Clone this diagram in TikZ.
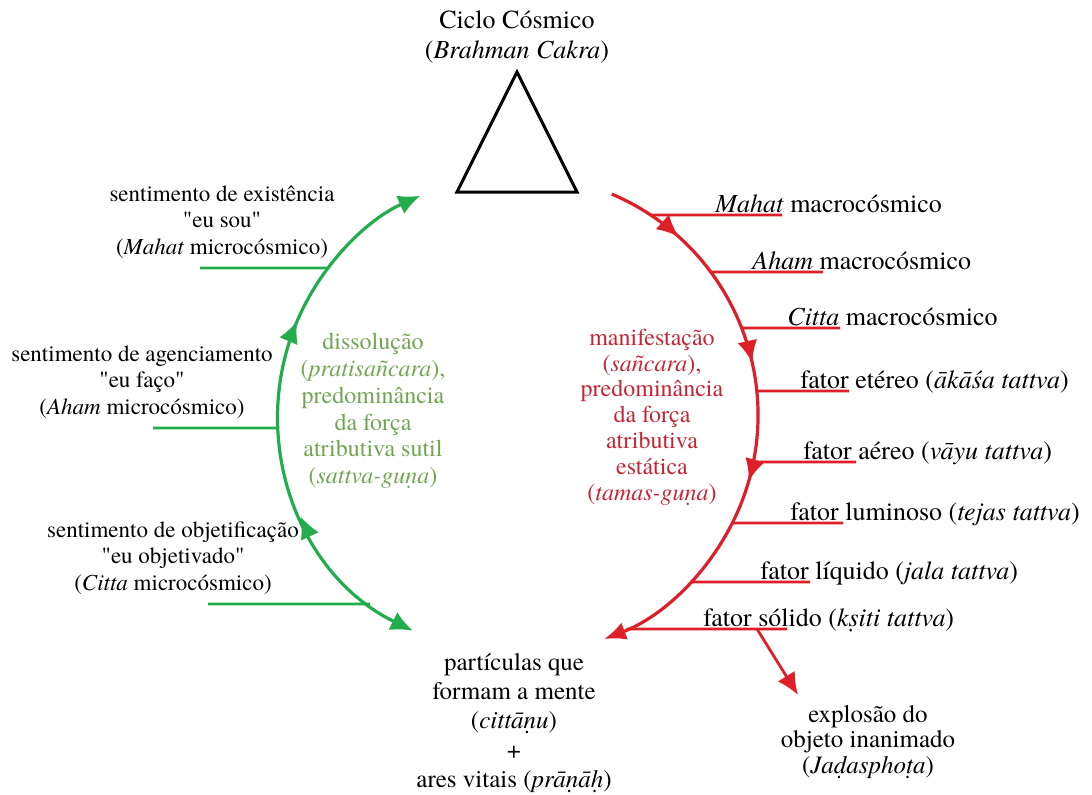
\documentclass[tikz,border=0pt]{standalone}
\usepackage{fontspec}
\setmainfont{texgyretermes}[Extension=.otf, UprightFont=*-regular, ItalicFont=*-italic,
  BoldFont=*-bold, BoldItalicFont=*-bolditalic, Ligatures=TeXOff]
\usetikzlibrary{arrows.meta,calc,decorations.markings}
\definecolor{paintgreen}{RGB}{34,172,76}
\definecolor{paintred}{RGB}{222,30,40}
\definecolor{sattvagreen}{RGB}{112,166,82}
\definecolor{tamasred}{RGB}{196,38,52}

\begin{document}
\begin{tikzpicture}[x=0.5pt, y=-0.5pt,
  greenarc/.style={line width=1.6pt, color=paintgreen},
  redarc/.style={line width=1.6pt, color=paintred},
  greentick/.style={line width=1.4pt, color=paintgreen},
  redtick/.style={line width=1.4pt, color=paintred},
  titlelabel/.style={font=\fontsize{13}{15}\selectfont, align=center, inner sep=0pt},
  leftlabel/.style={font=\fontsize{11.5}{13.3}\selectfont, align=center, inner sep=0pt},
  rightlabel/.style={font=\fontsize{13}{15}\selectfont, inner sep=0pt},
  gunalabel/.style={font=\fontsize{12}{13.4}\selectfont, align=center, inner sep=0pt}]
\useasboundingbox (0,0) rectangle (1092,794);
\coordinate (c) at (518,415);

% topo
\node[titlelabel] (ciclo) at (517,37) {Ciclo Cósmico\\(\textit{Brahman Cakra})};
\draw[line width=1.5pt] (517,72) -- (577,192) -- (457,192) -- cycle;

% pratisancara (verde)
\draw[greenarc, {Latex[length=11pt,width=10pt]}-{Latex[length=11pt,width=10pt]},
  postaction={decorate}, decoration={markings,
    mark=at position 0.30 with {\arrow{Latex[length=11pt,width=10pt]}},
    mark=at position 0.67 with {\arrow{Latex[length=11pt,width=10pt]}}}]
  ($(c)+(116:240)$) arc[start angle=116, end angle=246, radius=240];
\foreach \nm/\yy/\xs in {mahat/268/200, aham/428/153, citta/604/208}{
  \coordinate (garc-\nm) at ($(c)+({180-asin((\yy-415)/240)}:240)$);
  \coordinate (gend-\nm) at (\xs,\yy);
  \draw[greentick] (gend-\nm) -- (garc-\nm);
}
\node[leftlabel] (micro-mahat) at (222,222) {sentimento de existência\\"eu sou"\\(\textit{Mahat} microcósmico)};
\node[leftlabel] (micro-aham) at (142,382) {sentimento de agenciamento\\"eu faço"\\(\textit{Aham} microcósmico)};
\node[leftlabel] (micro-citta) at (173,558) {sentimento de objetificação\\"eu objetivado"\\(\textit{Citta} microcósmico)};
\node[gunalabel, text=sattvagreen] (sattva) at (373,411)
  {dissolução\\(\textit{pratisañcara}),\\predominância\\da força\\atributiva sutil\\(\textit{sattva-guṇa})};

% sancara (vermelho)
\draw[redarc, -{Latex[length=11pt,width=9pt]},
  postaction={decorate}, decoration={markings,
    mark=at position 0.14 with {\arrow{Latex[length=11pt,width=10pt]}},
    mark=at position 0.40 with {\arrow{Latex[length=11pt,width=10pt]}},
    mark=at position 0.61 with {\arrow{Latex[length=11pt,width=10pt]}}}]
  ($(c)+(-67:240)$) arc[start angle=-67, end angle=69, radius=240];
\foreach \nm/\yy/\xl/\xe/\txt in {
  mahat/215/715/782/{\textit{Mahat} macrocósmico},
  aham/272/752/823/{\textit{Aham} macrocósmico},
  citta/328/787/840/{\textit{Citta} macrocósmico},
  akasa/391/800/849/{fator etéreo (\textit{ākāśa tattva})},
  vayu/462/803/856/{fator aéreo (\textit{vāyu tattva})},
  tejas/523/790/843/{fator luminoso (\textit{tejas tattva})},
  jala/582/760/810/{fator líquido (\textit{jala tattva})},
  ksiti/629/703/787/{fator sólido (\textit{kṣiti tattva})}}{
  \coordinate (rarc-\nm) at ($(c)+({asin((\yy-415)/240)}:240)$);
  \coordinate (rend-\nm) at (\xe,\yy);
  \draw[redtick] (rarc-\nm) -- (rend-\nm);
  \node[rightlabel, anchor=base west] (macro-\nm) at (\xl,\yy-3) {\txt};
}
\node[gunalabel, text=tamasred, font=\fontsize{12}{12.9}\selectfont] (tamas) at (652,417)
  {manifestação\\(\textit{sañcara}),\\predominância\\da força\\atributiva\\estática\\(\textit{tamas-guṇa})};

% base
\node[titlelabel, font=\fontsize{12.5}{14.6}\selectfont] (cittanu) at (514,723)
  {partículas que\\formam a mente\\(\textit{cittāṇu})\\+\\ares vitais (\textit{prāṇāḥ})};
\node[titlelabel, font=\fontsize{12.5}{12.6}\selectfont] (jada) at (868,742)
  {explosão do\\objeto inanimado\\(\textit{Jaḍasphoṭa})};
\coordinate (split) at (757,629);
\coordinate (jada-tip) at (798,695);
\draw[redtick, -{Latex[length=11pt,width=10pt]}] (split) -- (jada-tip);
\end{tikzpicture}
\end{document}
